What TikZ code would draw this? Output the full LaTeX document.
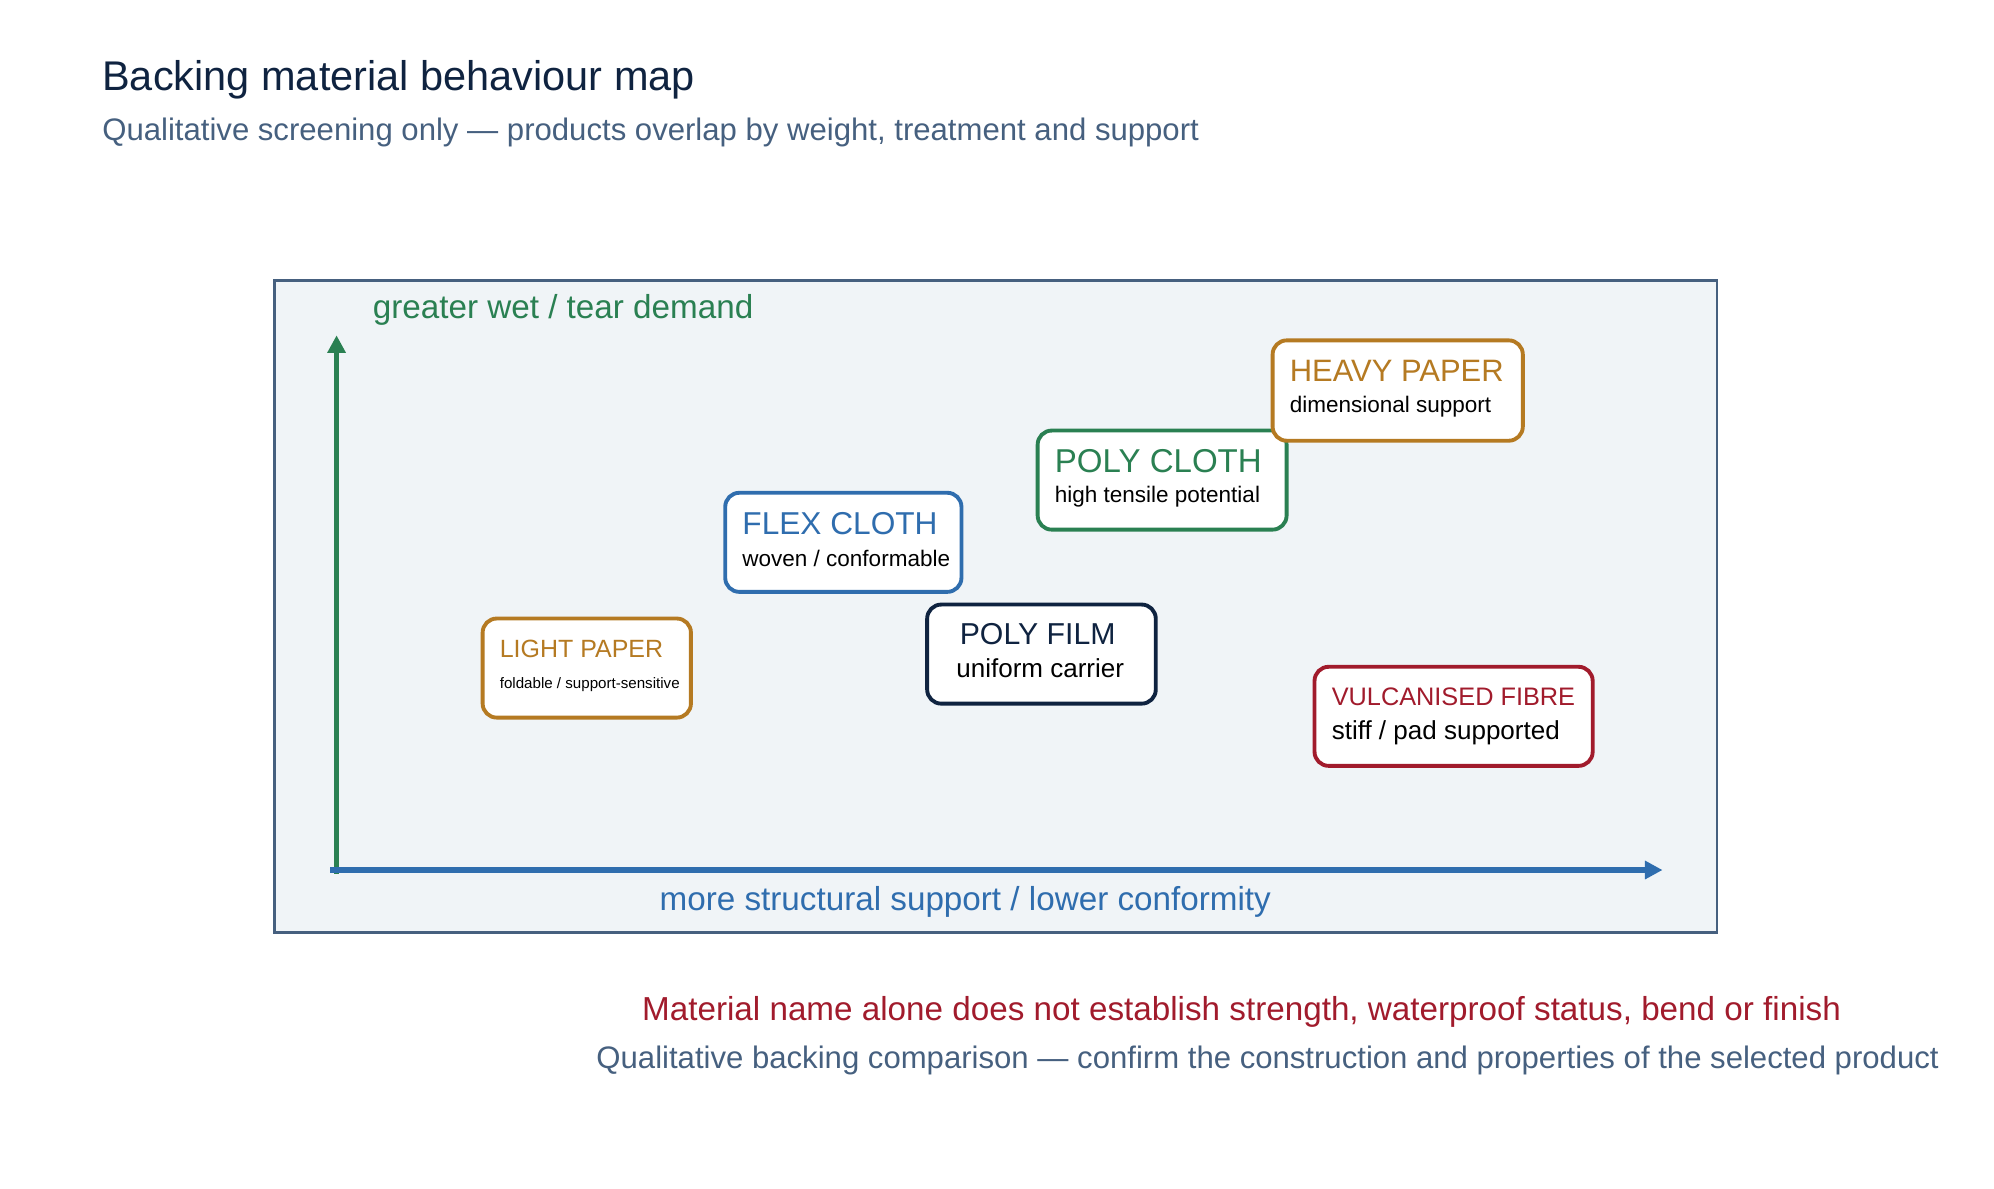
\documentclass[tikz,border=0pt]{standalone}
\usepackage{fontspec}
\setmainfont{Liberation Sans}
\usetikzlibrary{arrows.meta}
\definecolor{navy}{HTML}{0F2340}
\definecolor{slate}{HTML}{46607F}
\definecolor{panelbg}{HTML}{F0F4F7}
\definecolor{axgreen}{HTML}{2A8052}
\definecolor{axblue}{HTML}{2F6DAE}
\definecolor{ochre}{HTML}{B57A22}
\definecolor{wine}{HTML}{A11B2C}
\newcommand{\fs}[1]{\fontsize{#1}{#1}\selectfont}
\tikzset{
  matbox/.style={draw=#1, line width=1.1pt, rounded corners=4pt, fill=white},
  boxtitle/.style={anchor=west, inner sep=0pt, text=#1},
  boxsub/.style={anchor=west, inner sep=0pt, text=black},
  axis/.style={line width=1.45pt, -{Triangle[length=5pt,width=5pt]}}
}
\begin{document}
\begin{tikzpicture}[x=0.0127cm, y=-0.0127cm]
  \useasboundingbox (0,0) rectangle (1570,935.4);
  \node[anchor=west, inner sep=0pt, text=navy] (title) at (80,63) {\fs{11.8pt}Backing material behaviour map};
  \node[anchor=west, inner sep=0pt, text=slate] (subtitle) at (80,104) {\fs{8.85pt}Qualitative screening only — products overlap by weight, treatment and support};

  \draw[slate, line width=0.75pt, fill=panelbg] (216,221) rectangle (1352,734);
  \coordinate (origin) at (265,688);
  \coordinate (ytip) at (265,264);
  \coordinate (xstart) at (260,685);
  \coordinate (xtip) at (1309,685);
  \draw[axis, axgreen] (origin) -- (ytip);
  \draw[axis, axblue] (xstart) -- (xtip);
  \node[anchor=west, inner sep=0pt, text=axgreen] (ylabel) at (293,244) {\fs{9.45pt}greater wet / tear demand};
  \node[inner sep=0pt, text=axblue] (xlabel) at (760,710) {\fs{9.45pt}more structural support / lower conformity};

  \foreach \name/\xa/\ya/\xb/\yb/\col/\head/\hs/\sub/\ss in {
      light/380/487/544/565/ochre/LIGHT PAPER/7.1/foldable \slash{} support-sensitive/4.3,
      flex/571/388/757/466/axblue/FLEX CLOTH/9/woven \slash{} conformable/6.4,
      polycloth/817/339/1013/417/axgreen/POLY CLOTH/9.4/high tensile potential/6.4,
      heavy/1002/268/1199/347/ochre/HEAVY PAPER/8.8/dimensional support/6.4,
      fibre/1035/525/1254/603/wine/VULCANISED FIBRE/7.2/stiff \slash{} pad supported/7.4} {
    \draw[matbox=\col] (\xa,\ya) rectangle (\xb,\yb);
    \node[boxtitle=\col] (\name-head) at (\xa+13,\ya+24) {\fs{\hs pt}\head};
    \node[boxsub] (\name-sub) at (\xa+13,\ya+52) {\fs{\ss pt}\sub};
  }
  % centred box
  \draw[matbox=navy] (730,476) rectangle (910,554);
  \node[inner sep=0pt, text=navy] (film-head) at (817,499) {\fs{8.6pt}POLY FILM};
  \node[inner sep=0pt] (film-sub) at (819,526) {\fs{7.4pt}uniform carrier};

  \node[text=wine, inner sep=0pt, anchor=east] (caveat) at (1450,797) {\fs{9.45pt}Material name alone does not establish strength, waterproof status, bend or finish};
  \node[text=slate, inner sep=0pt, anchor=east] (note) at (1527,835) {\fs{8.85pt}Qualitative backing comparison — confirm the construction and properties of the selected product};
\end{tikzpicture}
\end{document}
